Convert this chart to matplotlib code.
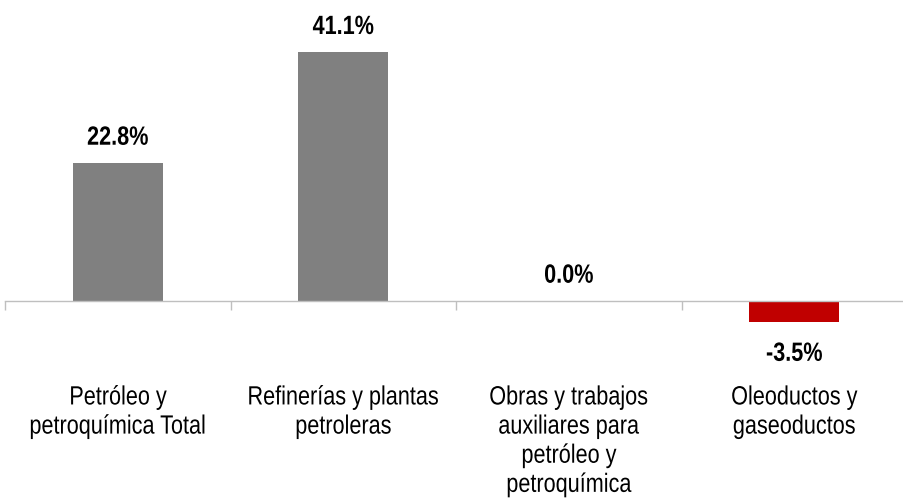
import matplotlib
matplotlib.use('Agg')
import matplotlib.pyplot as plt
from matplotlib.ticker import FixedLocator, NullFormatter
from matplotlib.patheffects import AbstractPathEffect
from matplotlib.transforms import Affine2D

plt.rcParams['font.family'] = ['Liberation Sans', 'DejaVu Sans']

# datos
categorias = ['Petróleo y\npetroquímica Total',
              'Refinerías y plantas\npetroleras',
              'Obras y trabajos\nauxiliares para\npetróleo y\npetroquímica',
              'Oleoductos y\ngaseoductos']
valores = [22.8, 41.1, 0.0, -3.5]
etiquetas = ['22.8%', '41.1%', '0.0%', '-3.5%']

gris = '#808080'
rojo = '#C00000'
colores = [rojo if v < 0 else gris for v in valores]


# no hay Arial Narrow: se estrecha la letra horizontalmente (cada linea sobre su centro)
class Estrecho(AbstractPathEffect):
    def __init__(self, f=0.82):
        super().__init__()
        self.f = f

    def draw_path(self, renderer, gc, tpath, affine, rgbFace=None):
        ext = tpath.get_extents()
        cx = (ext.x0 + ext.x1) / 2
        t = Affine2D().translate(-cx, 0).scale(self.f, 1).translate(cx, 0) + affine
        renderer.draw_path(gc, tpath, t, rgbFace)


estrecho = [Estrecho(0.82)]

fig = plt.figure(figsize=(9.04, 4.98), dpi=100)
# eje ocupa toda la figura, el cero queda a ~300 px desde arriba
ax = fig.add_axes([5 / 904, 0, 902 / 904, 1])

x = list(range(len(valores)))
ax.bar(x, valores, width=0.4, color=colores, zorder=2)

ax.set_xlim(-0.5, 3.5)
ax.set_ylim(-32.6, 49.7)

# etiquetas de valor
for xi, v, txt in zip(x, valores, etiquetas):
    if v < 0:
        off = -28
    else:
        off = 13
    ax.annotate(txt, (xi, v), xytext=(0, off), textcoords='offset points',
                ha='center', va='baseline', fontsize=19, fontweight='bold',
                color='black', path_effects=estrecho)

# ejes
for s in ['top', 'right', 'left']:
    ax.spines[s].set_visible(False)
ax.spines['bottom'].set_position(('data', 0))
ax.spines['bottom'].set_color('#BFBFBF')
ax.spines['bottom'].set_linewidth(1)
ax.set_yticks([])

# ticks mayores en los limites de categoria, etiquetas en el centro
ax.xaxis.set_major_locator(FixedLocator([-0.5, 0.5, 1.5, 2.5, 3.5]))
ax.xaxis.set_major_formatter(NullFormatter())
ax.xaxis.set_minor_locator(FixedLocator(x))
ax.set_xticklabels(categorias, minor=True, fontsize=19)
for lab in ax.get_xticklabels(minor=True):
    lab.set_path_effects(estrecho)
    lab.set_linespacing(1.27)
ax.tick_params(axis='x', which='major', length=6.5, width=1, color='#BFBFBF', direction='out')
ax.tick_params(axis='x', which='minor', length=0, pad=61)
ax.patch.set_visible(False)

fig.savefig('out.png', dpi=100)
